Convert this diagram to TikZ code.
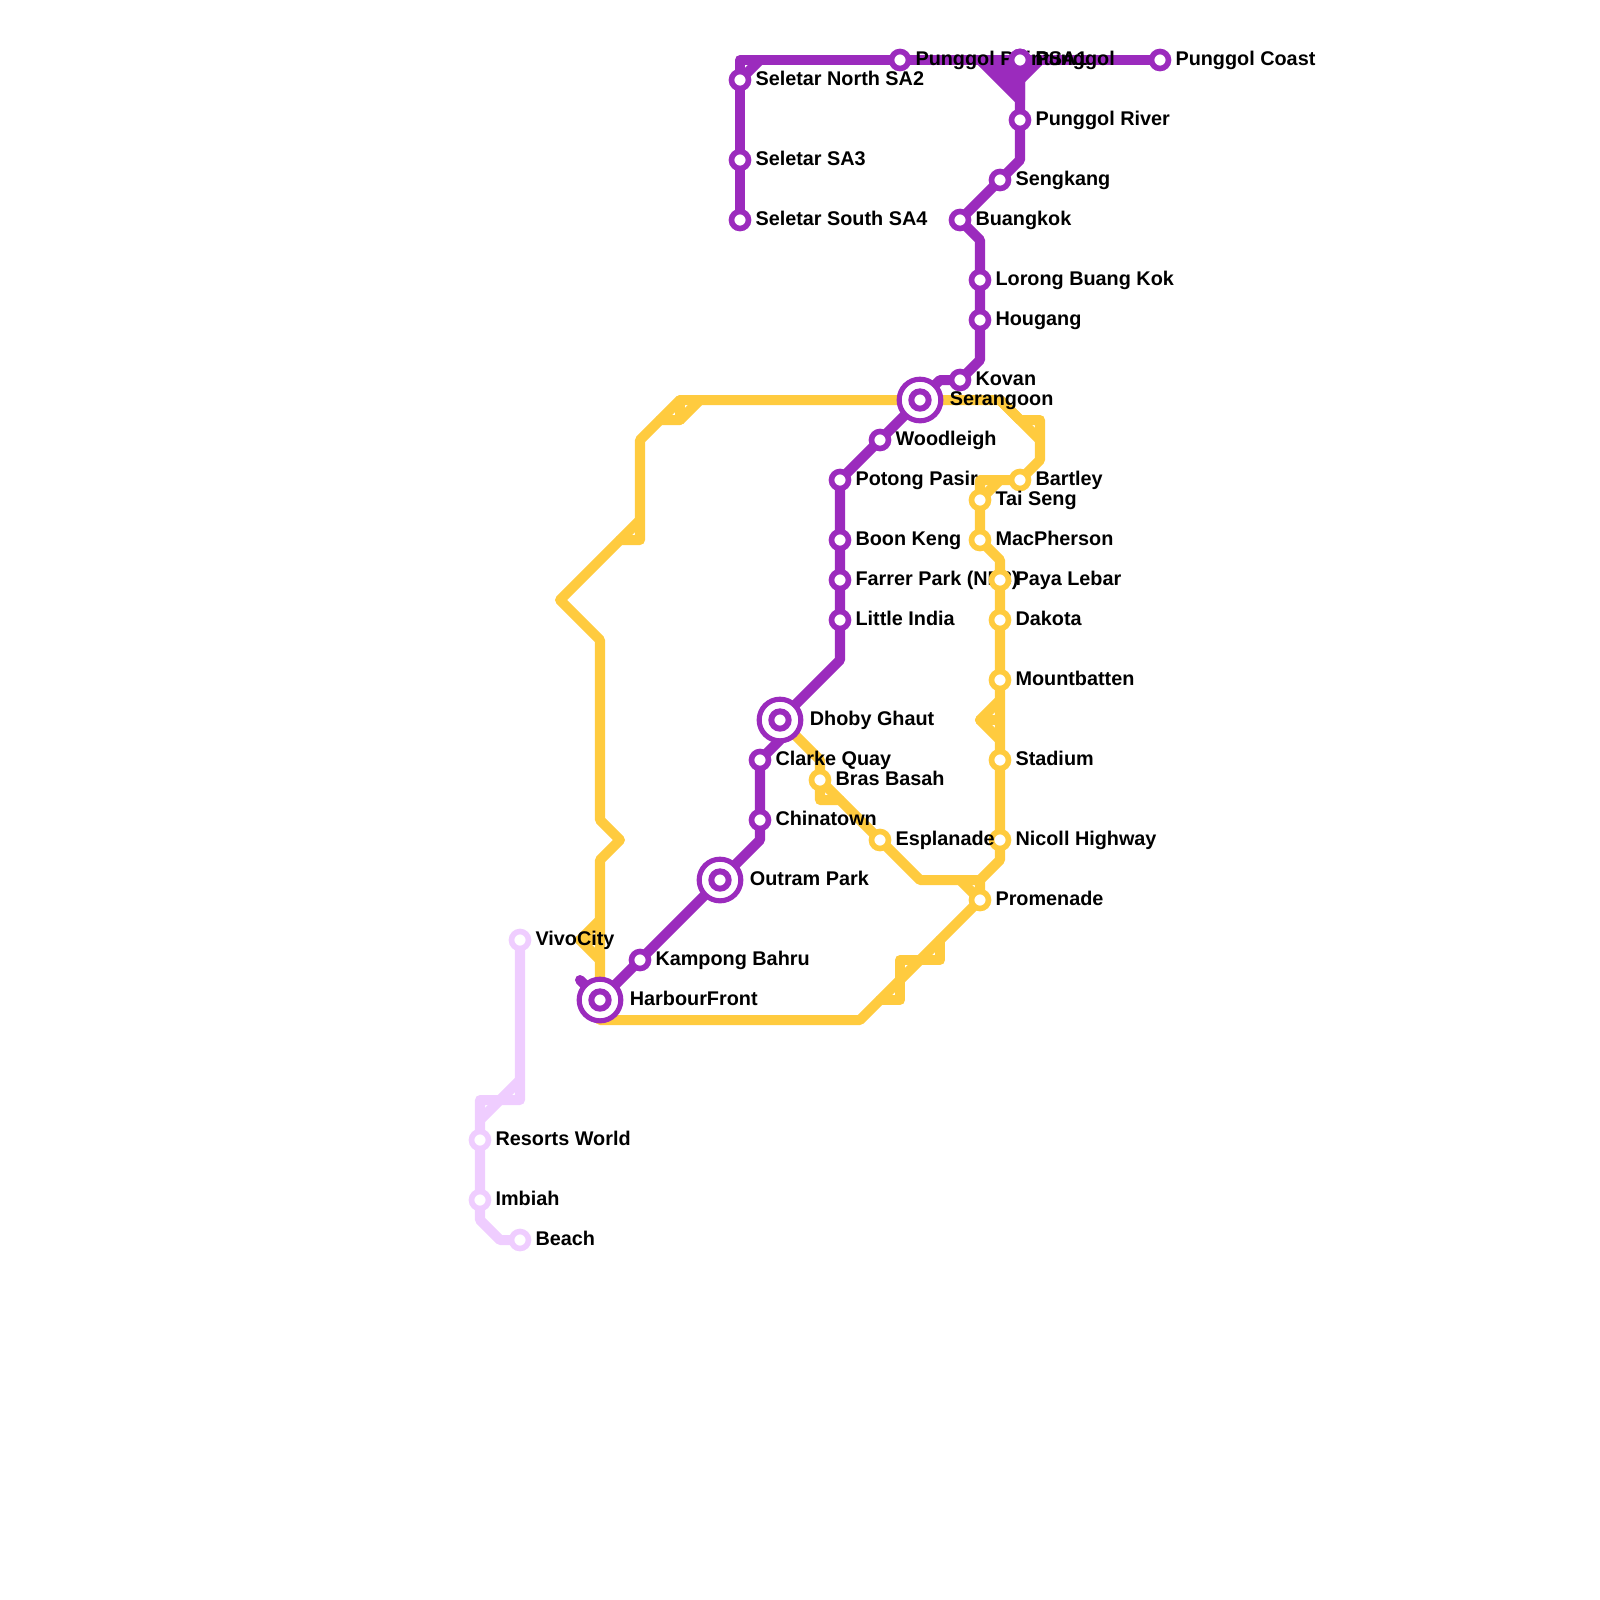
\documentclass[tikz,border=0pt]{standalone}
\usepackage{fontspec}
\setmainfont{Liberation Sans}
\definecolor{nelpurple}{HTML}{9B2BBD}
\definecolor{ccyellow}{HTML}{FFCB3F}
\definecolor{sentlilac}{HTML}{EFCDFF}
\tikzset{
  rail/.style={line width=2.85pt,line join=round,line cap=round},
  stn/.style={circle,draw=#1,fill=white,line width=1.6pt,minimum size=4.84pt,inner sep=0pt},
  hub/.style={circle,draw=nelpurple,fill=white,line width=1.45pt,minimum size=11.85pt,inner sep=0pt},
  hubdot/.style={circle,draw=nelpurple,fill=white,line width=1.7pt,minimum size=4.93pt,inner sep=0pt},
  lbl/.style={anchor=west,font=\bfseries\fontsize{5.64}{6}\selectfont,text=black,inner sep=0pt,text height=4.1pt,text depth=1.2pt},
}
\begin{document}
\begin{tikzpicture}[x=0.2cm,y=-0.2cm]
  \useasboundingbox (0,0) rectangle (80,80);
  % Sentosa
  \draw[rail,sentlilac] (26,47) -- (26,55) -- (24,55) -- (24,61) -- (25,62) -- (26,62);
  \draw[rail,sentlilac] (26,54) -- (24,56);
  % Circle
  \draw[rail,ccyellow] (39,36) -- (41,38) -- (41,40) -- (42,40);
  \draw[rail,ccyellow] (41,39) -- (46,44) -- (49,44) -- (50,43) -- (50,28) -- (49,27) -- (49,24) -- (51,24) -- (52,23) -- (52,21) -- (51,21) -- (50,20) -- (34,20) -- (32,22) -- (32,27) -- (31,27);
  \draw[rail,ccyellow] (50,20) -- (52,22);
  \draw[rail,ccyellow] (49,25) -- (50,24);
  \draw[rail,ccyellow] (50,35) -- (49,36) -- (50,37);
  \draw[rail,ccyellow] (49,36) -- (50,36);
  \draw[rail,ccyellow] (48,44) -- (49,45) -- (49,44);
  \draw[rail,ccyellow] (34,20) -- (34,21);
  \draw[rail,ccyellow] (33,21) -- (34,21) -- (35,20);
  \draw[rail,ccyellow] (32,26) -- (28,30) -- (30,32) -- (30,41) -- (31,42) -- (30,43) -- (30,51) -- (43,51) -- (49,45);
  \draw[rail,ccyellow] (30,46) -- (29,47) -- (30,48);
  \draw[rail,ccyellow] (29,47) -- (30,47);
  \draw[rail,ccyellow] (44,50) -- (45,50) -- (45,48) -- (47,48) -- (47,47);
  % North East
  \draw[rail,nelpurple] (29,49) -- (30,50) -- (38,42) -- (38,38) -- (39,37) -- (39,36) -- (42,33) -- (42,24) -- (46,20) -- (47,19) -- (48,19) -- (49,18) -- (49,12) -- (48,11) -- (51,8) -- (51,3);
  \draw[rail,nelpurple] (37,11) -- (37,3) -- (58,3);
  \draw[rail,nelpurple] (37,4) -- (38,3);
  \draw[rail,nelpurple,fill=nelpurple] (49,3) -- (51,5) -- (51,3) -- cycle;
  \draw[rail,nelpurple,fill=nelpurple] (51,4) -- (52,3) -- (51,3) -- cycle;
  % Stations
  \foreach \nm/\pos/\txt in {
    sna/{(37,4)}/Seletar North SA2, ssa/{(37,8)}/Seletar SA3, sso/{(37,11)}/Seletar South SA4,
    ppt/{(45,3)}/Punggol Point, psa/{(51,3)}/PSA1, pgl/{(51,3)}/Punggol, pcs/{(58,3)}/Punggol Coast,
    prv/{(51,6)}/Punggol River, skg/{(50,9)}/Sengkang, bgk/{(48,11)}/Buangkok,
    lbk/{(49,14)}/Lorong Buang Kok, hgg/{(49,16)}/Hougang, kvn/{(48,19)}/Kovan,
    wdl/{(44,22)}/Woodleigh, ptp/{(42,24)}/Potong Pasir, bnk/{(42,27)}/Boon Keng,
    frp/{(42,29)}/Farrer Park (NE8), lti/{(42,31)}/Little India, clq/{(38,38)}/Clarke Quay,
    chn/{(38,41)}/Chinatown, kpb/{(32,48)}/Kampong Bahru}
    \node[stn=nelpurple,label={[lbl,label distance=1pt]right:\txt}] (\nm) at \pos {};
  \foreach \nm/\pos/\txt in {
    brt/{(51,24)}/Bartley, tsg/{(49,25)}/Tai Seng, mcp/{(49,27)}/MacPherson, pyl/{(50,29)}/Paya Lebar,
    dkt/{(50,31)}/Dakota, mtb/{(50,34)}/Mountbatten, sdm/{(50,38)}/Stadium, ncl/{(50,42)}/Nicoll Highway,
    prm/{(49,45)}/Promenade, esp/{(44,42)}/Esplanade, bbs/{(41,39)}/Bras Basah}
    \node[stn=ccyellow,label={[lbl,label distance=1pt]right:\txt}] (\nm) at \pos {};
  \foreach \nm/\pos/\txt in {
    vvc/{(26,47)}/VivoCity, rsw/{(24,57)}/Resorts World, imb/{(24,60)}/Imbiah, bch/{(26,62)}/Beach}
    \node[stn=sentlilac,label={[lbl,label distance=1pt]right:\txt}] (\nm) at \pos {};
  \foreach \nm/\pos/\txt in {
    srg/{(46,20)}/Serangoon, dbg/{(39,36)}/Dhoby Ghaut, otp/{(36,44)}/Outram Park, hbf/{(30,50)}/HarbourFront}{
    \node[hub] (\nm) at \pos {};
    \node[hubdot] at (\nm) {};
    \node[lbl,xshift=8.3pt] at (\nm) {\txt};
  }
\end{tikzpicture}
\end{document}
